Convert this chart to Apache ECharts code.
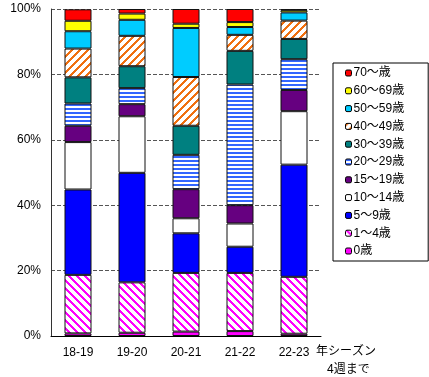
<!DOCTYPE html>
<html>
<head>
<meta charset="utf-8">
<script src="https://cdn.jsdelivr.net/npm/echarts@6/dist/echarts.min.js"></script>
<style>
html,body{margin:0;padding:0;background:#fff}
#main{width:429px;height:377px}
</style>
</head>
<body>
<div id="main"></div>
<script>
var seasons = ['18-19', '19-20', '20-21', '21-22', '22-23'];
var ages = ['0歳', '1～4歳', '5～9歳', '10～14歳', '15～19歳', '20～29歳', '30～39歳', '40～49歳', '50～59歳', '60～69歳', '70～歳'];
var yTicks = [0, 20, 40, 60, 80, 100];

// 各シーズンの年齢別割合(%)
var age0    = [0.8, 1.0, 1.35, 1.5, 0.7];
var age1_4  = [17.9, 15.4, 17.95, 17.8, 17.4];
var age5_9  = [26.1, 33.5, 12.1, 8.0, 34.3];
var age10_14 = [14.5, 17.3, 4.6, 7.1, 16.35];
var age15_19 = [5.0, 3.7, 8.9, 5.6, 6.5];
var age20_29 = [6.8, 4.9, 10.5, 36.9, 9.4];
var age30_39 = [8.0, 6.7, 8.9, 10.3, 6.2];
var age40_49 = [8.8, 9.3, 14.9, 4.9, 5.6];
var age50_59 = [5.3, 4.9, 15.0, 2.4, 2.5];
var age60_69 = [3.2, 1.9, 1.3, 1.5, 0.7];
var age70 = [3.5, 1.4, 4.5, 4.0, 0.3];

var allData = [age0, age1_4, age5_9, age10_14, age15_19, age20_29, age30_39, age40_49, age50_59, age60_69, age70];

// 斜線・横縞パターン
function stripe(kind, col, size, w) {
    var c = document.createElement('canvas');
    c.width = size; c.height = size;
    var ctx = c.getContext('2d');
    ctx.fillStyle = '#fff';
    ctx.fillRect(0, 0, size, size);
    ctx.fillStyle = col;
    for (var x = 0; x < size; x++) {
        for (var y = 0; y < size; y++) {
            var v;
            if (kind == 'h') v = y % size;
            else if (kind == '/') v = (x + y) % size;
            else v = ((x - y) % size + size) % size;
            if (v < w) ctx.fillRect(x, y, 1, 1);
        }
    }
    return {image: c, repeat: 'repeat'};
}

var colors = [
    '#FF00FF',
    stripe('\\', '#FF00FF', 8, 3),
    '#0000FF',
    '#FFFFFF',
    '#660080',
    stripe('h', '#3366FF', 4, 2),
    '#008080',
    stripe('/', '#F07010', 8, 3),
    '#00CCFF',
    '#FFFF00',
    '#FF0000'
];

var series = [];
for (var i = 0; i < ages.length; i++) {
    series.push({
        name: ages[i],
        type: 'bar',
        stack: 'all',
        barWidth: '50%',
        data: allData[i],
        itemStyle: {color: colors[i], borderColor: '#111', borderWidth: 1},
        emphasis: {disabled: true}
    });
}

var myChart = echarts.init(document.getElementById('main'));
var font = '"Liberation Sans", "Noto Sans CJK JP", sans-serif';

option = {
    animation: false,
    textStyle: {fontFamily: font},
    grid: {left: 51, right: 108, top: 9, bottom: 41},
    legend: {
        orient: 'vertical',
        left: 333,
        top: 63,
        data: ages.slice().reverse(),
        itemWidth: 6,
        itemHeight: 6,
        itemGap: 5.8,
        padding: [4, 24, 4, 12],
        borderColor: '#000',
        borderWidth: 1,
        selectedMode: false,
        itemStyle: {borderColor: '#000', borderWidth: 1},
        textStyle: {fontSize: 12, color: '#000', lineHeight: 12, padding: [0, 0, 0, -3], fontFamily: font}
    },
    xAxis: {
        type: 'category',
        data: seasons,
        axisLine: {lineStyle: {color: '#000'}},
        axisTick: {inside: true, length: 4, lineStyle: {color: '#555'}},
        axisLabel: {color: '#000', fontSize: 12, margin: 11, fontFamily: font}
    },
    yAxis: {
        type: 'value',
        min: 0,
        max: 100,
        interval: 20,
        axisLine: {show: true, lineStyle: {color: '#333'}},
        axisTick: {show: false},
        axisLabel: {color: '#000', fontSize: 12, margin: 10, formatter: '{value}%', fontFamily: font},
        splitLine: {lineStyle: {color: '#555', type: [4, 2]}}
    },
    graphic: [
        {type: 'text', left: 316, top: 346, style: {text: '年シーズン', fontSize: 12, fill: '#000', fontFamily: font}},
        {type: 'text', left: 327, top: 364, style: {text: '4週まで', fontSize: 12, fill: '#000', fontFamily: font}}
    ],
    series: series
};
myChart.setOption(option);
</script>
</body>
</html>
